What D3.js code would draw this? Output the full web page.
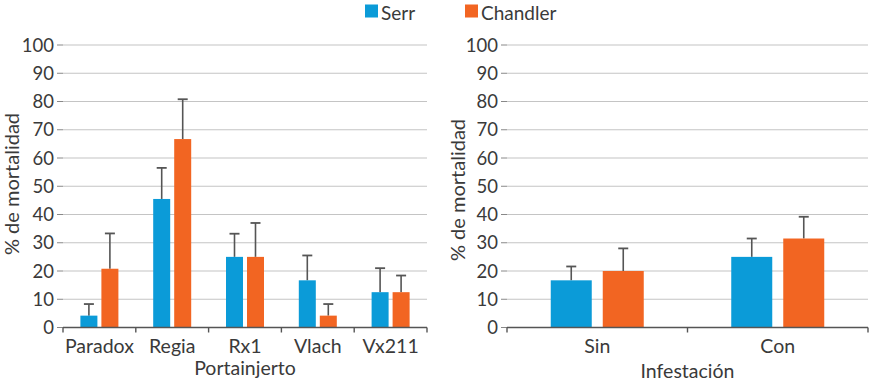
<!DOCTYPE html>
<html>
<head>
<meta charset="utf-8">
<script src="https://cdn.jsdelivr.net/npm/d3@7"></script>
<style>
  body { margin: 0; background: #fff; }
  text { font-family: Lato, "Open Sans", sans-serif; fill: #3a3a3a; }
</style>
</head>
<body>
<svg id="chart" width="871" height="383"></svg>
<script>
const series = ["Serr", "Chandler"];
const colors = ["#0b9bd8", "#f26522"];
const yTicks = [0, 10, 20, 30, 40, 50, 60, 70, 80, 90, 100];

// panel 1: portainjerto
const rootstocks = ["Paradox", "Regia", "Rx1", "Vlach", "Vx211"];
const serrRoot = [4.2, 45.5, 25, 16.7, 12.5];
const serrRootErr = [8.3, 56.5, 33.2, 25.5, 21];
const chandRoot = [20.8, 66.7, 25, 4.2, 12.5];
const chandRootErr = [33.3, 80.8, 37, 8.3, 18.4];

// panel 2: infestacion
const infest = ["Sin", "Con"];
const serrInf = [16.7, 25];
const serrInfErr = [21.6, 31.5];
const chandInf = [20, 31.5];
const chandInfErr = [28, 39.2];

const svg = d3.select("#chart");
const y = d3.scaleLinear().domain([0, 100]).range([327.5, 45]);

function drawPanel(opt) {
  const g = svg.append("g");
  const x = d3.scaleBand().domain(opt.cats).range([opt.x0, opt.x1]);
  // bar offsets from band centre
  const off = [-(opt.gap / 2 + opt.barW), opt.gap / 2];

  g.selectAll("line.grid").data(yTicks.slice(1)).enter().append("line")
    .attr("x1", opt.x0).attr("x2", opt.x1)
    .attr("y1", d => y(d)).attr("y2", d => y(d))
    .attr("stroke", "#c4c4c4").attr("stroke-width", 1.2);
  g.selectAll("line.ytick").data(yTicks).enter().append("line")
    .attr("x1", opt.x0 - 6).attr("x2", opt.x0)
    .attr("y1", d => y(d)).attr("y2", d => y(d))
    .attr("stroke", "#888").attr("stroke-width", 1);
  g.selectAll("text.ylab").data(yTicks).enter().append("text")
    .attr("x", opt.x0 - 9).attr("y", d => y(d)).attr("dy", "0.36em")
    .attr("text-anchor", "end").style("font-size", "18.5px")
    .text(d => d);

  const sets = [
    { v: opt.serr, e: opt.serrErr, s: 0 },
    { v: opt.chand, e: opt.chandErr, s: 1 }
  ];
  sets.forEach(set => {
    const data = opt.cats.map((c, i) => ({ c, v: set.v[i], e: set.e[i] }));
    const bx = d => x(d.c) + x.bandwidth() / 2 + off[set.s];
    const cx = d => bx(d) + opt.barW / 2;
    g.selectAll(null).data(data).enter().append("line")
      .attr("x1", cx).attr("x2", cx)
      .attr("y1", d => y(d.v)).attr("y2", d => y(d.e))
      .attr("stroke", "#555").attr("stroke-width", 1.6);
    g.selectAll(null).data(data).enter().append("line")
      .attr("x1", d => cx(d) - 5).attr("x2", d => cx(d) + 5)
      .attr("y1", d => y(d.e)).attr("y2", d => y(d.e))
      .attr("stroke", "#555").attr("stroke-width", 1.8);
    g.selectAll(null).data(data).enter().append("rect")
      .attr("x", bx).attr("width", opt.barW)
      .attr("y", d => y(d.v)).attr("height", d => y(0) - y(d.v))
      .attr("fill", colors[set.s]);
  });

  g.append("line").attr("x1", opt.x0).attr("x2", opt.x1)
    .attr("y1", y(0)).attr("y2", y(0))
    .attr("stroke", "#555").attr("stroke-width", 1.6);
  const edges = opt.cats.map(c => x(c)).concat([opt.x1]);
  g.selectAll(null).data(edges).enter().append("line")
    .attr("x1", d => d).attr("x2", d => d)
    .attr("y1", y(0)).attr("y2", y(0) + 5)
    .attr("stroke", "#555").attr("stroke-width", 1.4);
  g.selectAll(null).data(opt.cats).enter().append("text")
    .attr("x", d => x(d) + x.bandwidth() / 2).attr("y", 353)
    .attr("text-anchor", "middle").style("font-size", "19.5px")
    .text(d => d);
  g.append("text").attr("x", (opt.x0 + opt.x1) / 2).attr("y", opt.titleY)
    .attr("text-anchor", "middle").style("font-size", "19.5px")
    .text(opt.title);
  g.append("text")
    .attr("transform", `translate(${opt.ylx},${opt.yly}) rotate(-90)`)
    .attr("text-anchor", "middle").attr("dy", "0.35em")
    .style("font-size", "20px")
    .text("% de mortalidad");
}

drawPanel({
  cats: rootstocks, x0: 63, x1: 427, barW: 17, gap: 4,
  serr: serrRoot, serrErr: serrRootErr, chand: chandRoot, chandErr: chandRootErr,
  title: "Portainjerto", titleY: 375, ylx: 12, yly: 184
});
drawPanel({
  cats: infest, x0: 507, x1: 868, barW: 41, gap: 11,
  serr: serrInf, serrErr: serrInfErr, chand: chandInf, chandErr: chandInfErr,
  title: "Infestación", titleY: 378, ylx: 458, yly: 190
});

const legX = [365, 465];
const leg = svg.append("g");
series.forEach((s, i) => {
  leg.append("rect").attr("x", legX[i]).attr("y", 4.5).attr("width", 13).attr("height", 13)
    .attr("fill", colors[i]);
  leg.append("text").attr("x", legX[i] + 16).attr("y", 19.5)
    .style("font-size", "19px").text(s);
});
</script>
</body>
</html>
